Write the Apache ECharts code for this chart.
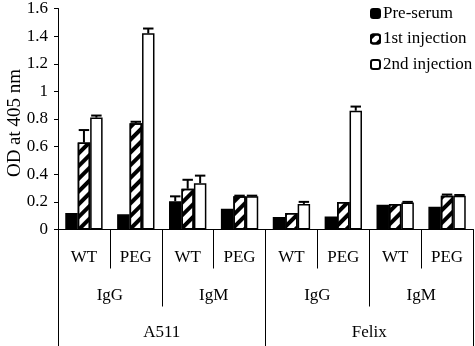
<!DOCTYPE html>
<html>
<head>
<meta charset="utf-8">
<script src="https://cdn.jsdelivr.net/npm/echarts@6/dist/echarts.min.js"></script>
<style>html,body{margin:0;padding:0;background:#fff}#c{width:475px;height:346px}</style>
</head>
<body>
<div id="c"></div>
<script>
// ---- data ----
const subCategories = ['WT', 'PEG', 'WT', 'PEG', 'WT', 'PEG', 'WT', 'PEG'];
const isotypes = ['IgG', 'IgM', 'IgG', 'IgM'];
const phages = ['A511', 'Felix'];
const seriesNames = ['Pre-serum', '1st injection', '2nd injection'];
const preSerum = [0.12, 0.11, 0.205, 0.15, 0.09, 0.095, 0.18, 0.165];
const firstInjection = [0.63, 0.77, 0.295, 0.24, 0.12, 0.20, 0.185, 0.245];
const secondInjection = [0.81, 1.42, 0.335, 0.24, 0.185, 0.86, 0.195, 0.245];
const preSerumErr = [0, 0, 0.035, 0, 0, 0, 0, 0];
const firstInjectionErr = [0.09, 0.01, 0.065, 0.005, 0, 0, 0, 0.008];
const secondInjectionErr = [0.015, 0.035, 0.055, 0.005, 0.015, 0.03, 0.005, 0.005];
const yTicks = { min: 0, max: 1.6, interval: 0.2 };

// ---- chart ----
const FONT = '"Liberation Serif", "Times New Roman", serif';
const FS = 17;
const values = [preSerum, firstInjection, secondInjection];
const errs = [preSerumErr, firstInjectionErr, secondInjectionErr];
const GAP = 0.28;

const barStyles = [
  { color: '#000', borderColor: '#000', borderWidth: 1.5 },
  { color: '#fff', borderColor: '#000', borderWidth: 1.5,
    decal: { symbol: 'rect', symbolSize: 1, dashArrayX: [1, 0], dashArrayY: [4, 5], rotation: -Math.PI / 4, color: '#000' } },
  { color: '#fff', borderColor: '#000', borderWidth: 1.5 }
];

const series = [];
seriesNames.forEach((name, i) => {
  series.push({
    name: name, type: 'bar', xAxisIndex: 0, yAxisIndex: 0,
    data: values[i], barGap: '0%', barCategoryGap: (GAP * 100) + '%',
    itemStyle: barStyles[i], emphasis: { disabled: true }, animation: false
  });
});
seriesNames.forEach((name, i) => {
  series.push({
    type: 'custom', xAxisIndex: 0, yAxisIndex: 0, z: 5, animation: false,
    data: values[i].map((v, k) => [k, v, errs[i][k]]),
    renderItem: function (params, api) {
      const e = api.value(2);
      if (!e) return null;
      const k = api.value(0), v = api.value(1);
      const band = api.size([1, 0])[0];
      const bw = band * (1 - GAP) / 3;
      const off = (i - 1) * bw;
      const p1 = api.coord([k, v]);
      const p2 = api.coord([k, v + e]);
      const x = p1[0] + off;
      const hw = bw * 0.42;
      return {
        type: 'group',
        children: [
          { type: 'line', shape: { x1: x, y1: p1[1], x2: x, y2: p2[1] }, style: { stroke: '#000', lineWidth: 2 } },
          { type: 'line', shape: { x1: x - hw, y1: p2[1], x2: x + hw, y2: p2[1] }, style: { stroke: '#000', lineWidth: 2 } }
        ]
      };
    }
  });
});

const chart = echarts.init(document.getElementById('c'), null, { renderer: 'canvas' });
chart.setOption({
  animation: false,
  backgroundColor: '#fff',
  textStyle: { fontFamily: FONT },
  grid: { left: 58, right: 2, top: 8.5, bottom: 116.5, containLabel: false, outerBoundsMode: 'none' },
  legend: {
    orient: 'vertical', left: 365, top: 0, itemWidth: 9, itemHeight: 9, itemGap: 8.5,
    data: seriesNames,
    textStyle: { fontFamily: FONT, fontSize: FS, color: '#000', padding: [0, 0, 0, -2] },
    selectedMode: false
  },
  xAxis: [
    {
      type: 'category', data: subCategories, position: 'bottom',
      axisLine: { show: true, lineStyle: { color: '#000', width: 1 } },
      axisTick: { show: true, length: 39, lineStyle: { color: '#000', width: 1 } },
      axisLabel: { margin: 20, fontFamily: FONT, fontSize: FS, color: '#000' },
      splitLine: { show: false }
    },
    {
      type: 'category', data: isotypes, position: 'bottom',
      axisLine: { show: false },
      axisTick: { show: true, length: 77, lineStyle: { color: '#000', width: 1 } },
      axisLabel: { margin: 58, fontFamily: FONT, fontSize: FS, color: '#000' },
      splitLine: { show: false }
    },
    {
      type: 'category', data: phages, position: 'bottom',
      axisLine: { show: false },
      axisTick: { show: true, length: 118, lineStyle: { color: '#000', width: 1 } },
      axisLabel: { margin: 95, fontFamily: FONT, fontSize: FS, color: '#000' },
      splitLine: { show: false }
    }
  ],
  yAxis: {
    type: 'value', min: yTicks.min, max: yTicks.max, interval: yTicks.interval,
    name: 'OD at 405 nm', nameLocation: 'middle', nameGap: 33, nameMoveOverlap: false,
    nameTextStyle: { fontFamily: FONT, fontSize: 19, color: '#000', padding: [0, 8, 0, 0] },
    axisLine: { show: true, lineStyle: { color: '#000', width: 1 } },
    axisTick: { show: true, length: 4, lineStyle: { color: '#000' } },
    axisLabel: { margin: 10, fontFamily: FONT, fontSize: FS, color: '#000' },
    splitLine: { show: false }
  },
  series: series
});
</script>
</body>
</html>
